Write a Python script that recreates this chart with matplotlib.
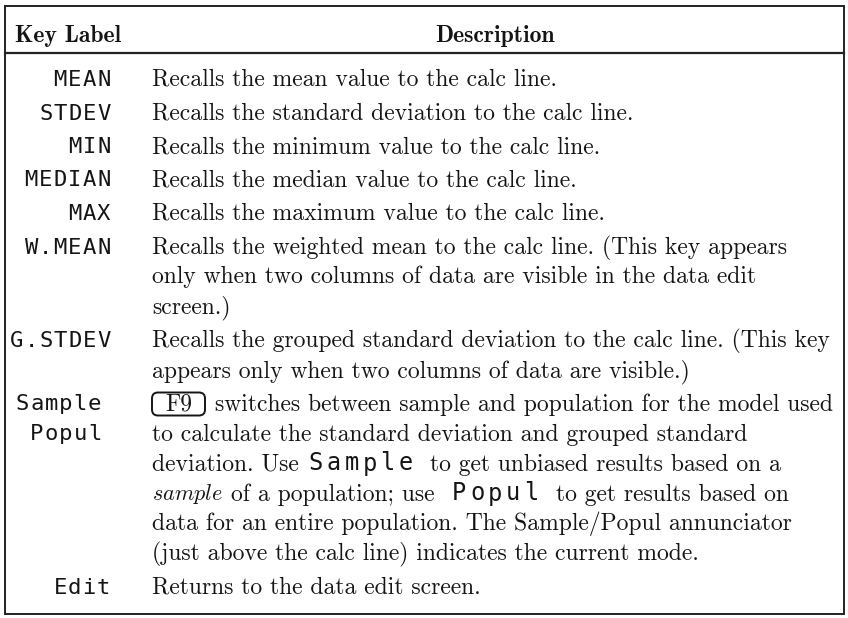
import re
import matplotlib.pyplot as plt
from matplotlib.patches import Rectangle, FancyBboxPatch

plt.rcParams['mathtext.fontset'] = 'cm'

# table content: key label column and wrapped description lines
header = ["Key Label", "Description"]
key_labels = ["MEAN", "STDEV", "MIN", "MEDIAN", "MAX", "W.MEAN", "G.STDEV",
              "Sample\nPopul", "Edit"]
descriptions = [
    ["Recalls the mean value to the calc line."],
    ["Recalls the standard deviation to the calc line."],
    ["Recalls the minimum value to the calc line."],
    ["Recalls the median value to the calc line."],
    ["Recalls the maximum value to the calc line."],
    ["Recalls the weighted mean to the calc line. (This key appears",
     "only when two columns of data are visible in the data edit",
     "screen.)"],
    ["Recalls the grouped standard deviation to the calc line. (This key",
     "appears only when two columns of data are visible.)"],
    ["<b>F9</b> switches between sample and population for the model used",
     "to calculate the standard deviation and grouped standard",
     "deviation. Use <k>Sample</k>  to get unbiased results based on a",
     "<i>sample</i> of a population; use  <k>Popul</k>  to get results based on",
     "data for an entire population. The Sample/Popul annunciator",
     "(just above the calc line) indicates the current mode."],
    ["Returns to the data edit screen."],
]

W, H = 848, 618
fig = plt.figure(figsize=(W / 100, H / 100), dpi=100)
ax = fig.add_axes([0, 0, 1, 1])
ax.set_xlim(0, W)
ax.set_ylim(H, 0)
ax.axis('off')
renderer = fig.canvas.get_renderer()

INK = '#151515'
DESC_SIZE = 17
SPACE = 0.333 * DESC_SIZE * 100 / 72
KEY_SIZE = 16
KEY_PITCH = 14.5
DESC_X = 152


def draw_key(x, y, s, pitch=KEY_PITCH, size=KEY_SIZE, right=False):
    """dot-matrix style label, one char per fixed cell"""
    if right:
        x = x - pitch * len(s)
    for i, ch in enumerate(s):
        ax.text(x + pitch * (i + 0.5), y, ch, family='DejaVu Sans Mono',
                fontsize=size, ha='center', va='baseline', color=INK)
    return pitch * len(s)


def draw_line(x, y, line):
    parts = re.split(r'(<[kib]>.*?</[kib]>)', line)
    for part in parts:
        if not part:
            continue
        m = re.match(r'<([kib])>(.*?)</[kib]>', part)
        if m:
            kind, s = m.groups()
            if kind == 'k':
                x += draw_key(x, y, s, pitch=18, size=17)
            elif kind == 'i':
                t = ax.text(x, y, r'$\mathit{%s}$' % s, fontsize=DESC_SIZE - 1,
                            ha='left', va='baseline', color=INK)
                x += t.get_window_extent(renderer).width
            else:
                t = ax.text(x + 13, y, s, family='cmr10', fontsize=DESC_SIZE,
                            ha='left', va='baseline', color=INK)
                w = t.get_window_extent(renderer).width
                ax.add_patch(FancyBboxPatch((x, y - 18), w + 26, 23,
                             boxstyle='round,pad=0,rounding_size=6',
                             fill=False, ec=INK, lw=1.4))
                x += w + 28
            continue
        lead = len(part) - len(part.lstrip(' '))
        trail = len(part) - len(part.rstrip(' '))
        x += lead * SPACE
        s = part.strip(' ')
        if s:
            t = ax.text(x, y, s, family='cmr10', fontsize=DESC_SIZE,
                        ha='left', va='baseline', color=INK)
            x += t.get_window_extent(renderer).width
        x += trail * SPACE
    return x


# frame and header rule
ax.add_patch(Rectangle((5, 6), 839, 608, fill=False, ec='#222222', lw=1.4))
ax.plot([5, 844], [53, 53], color='#222222', lw=1.6)

ax.text(15, 42, header[0], family='cmb10', fontsize=17, ha='left',
        va='baseline', color=INK)
ax.text(495, 42, header[1], family='cmb10', fontsize=17, ha='center',
        va='baseline', color=INK)

LINE = 30
y = 86
for key, lines in zip(key_labels, descriptions):
    keys = key.split('\n')
    right = 111 if len(keys) == 1 else 102
    for j, k in enumerate(keys):
        draw_key(right, y + j * LINE, k, right=True)
    for j, line in enumerate(lines):
        draw_line(DESC_X, y + j * LINE, line)
    y += LINE * (len(lines) - 1) + 33.5

fig.savefig('out.png', dpi=100)
